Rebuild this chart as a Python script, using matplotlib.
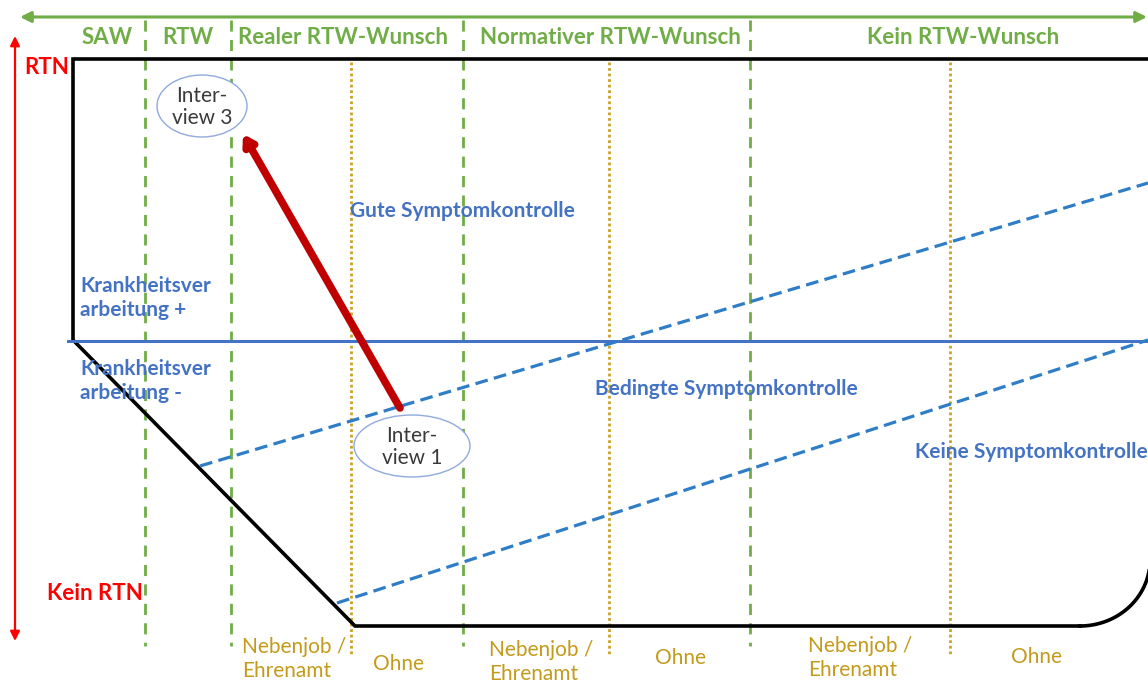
import numpy as np
import matplotlib.pyplot as plt
from matplotlib.patches import Ellipse

# === Diagram content (pixel space of a 1148 x 682 canvas) ===
W, H = 1148, 682

phase_labels = ["SAW", "RTW", "Realer RTW-Wunsch", "Normativer RTW-Wunsch", "Kein RTW-Wunsch"]
phase_label_x = [107, 188, 343, 610, 963]
phase_dividers = [145, 231, 463, 750]

work_dividers = [351, 609, 950]
side_job_labels = ["Nebenjob /\nEhrenamt"] * 3
side_job_x = [242, 489, 808]
side_job_y = [659, 662, 658]
no_job_labels = ["Ohne"] * 3
no_job_x = [398, 680, 1037]
no_job_y = [664, 658, 657]

# outline of the trajectory space
outline_x = [1148, 73, 73, 355, 1080]
outline_y = [59, 59, 340, 626, 626]

# coping split and symptom control boundaries
coping_y = 341
symptom_lines = [((200, 466), (1148, 183)), ((337, 603), (1148, 340))]

interviews = {"Inter-\nview 3": (202, 106, 90, 62), "Inter-\nview 1": (412, 446, 116, 62)}
move_start, move_end = (400, 408), (243, 134)

GREEN = "#70AD47"
BLUE = "#4472C4"
DBLUE = "#2E7DC6"
GOLD = "#C9A227"
GOLD_TXT = "#C49A1A"
RED = "#FF0000"
DRED = "#C00000"

plt.rcParams['font.family'] = ['Lato', 'DejaVu Sans']

fig = plt.figure(figsize=(W / 100, H / 100), dpi=100)
ax = fig.add_axes([0, 0, 1, 1])
ax.set_xlim(0, W)
ax.set_ylim(H, 0)
ax.axis('off')

# top green double arrow + phase headers
ax.annotate("", xy=(20, 17), xytext=(1147, 17),
            arrowprops=dict(arrowstyle='<|-|>', color=GREEN, lw=2.2,
                            mutation_scale=16, shrinkA=0, shrinkB=0))
for lab, x in zip(phase_labels, phase_label_x):
    ax.text(x, 38, lab, color=GREEN, fontsize=16, fontweight='bold',
            ha='center', va='center')
for x in phase_dividers:
    ax.plot([x, x], [20, 646], color=GREEN, lw=2, ls=(0, (4, 3)), zorder=2)

# gold dotted sub-dividers + labels
for x in work_dividers:
    ax.plot([x, x], [62, 656], color=GOLD, lw=2, ls=(0, (1, 1)), zorder=2)
for lab, x, y in zip(side_job_labels, side_job_x, side_job_y):
    ax.text(x, y, lab, color=GOLD_TXT, fontsize=15, ha='left', va='center',
            linespacing=1.25)
for lab, x, y in zip(no_job_labels, no_job_x, no_job_y):
    ax.text(x, y, lab, color=GOLD_TXT, fontsize=15, ha='center', va='center')

# outline
ax.plot(outline_x, outline_y, color='black', lw=2.6, zorder=3,
        solid_joinstyle='miter')
t = np.linspace(np.pi / 2, 0, 40)
ax.plot(1080 + 70 * np.cos(t), 560 + 66 * np.sin(t), color='black', lw=2.6, zorder=3)

# coping split line
ax.plot([68, W], [coping_y, coping_y], color=BLUE, lw=2.2, zorder=3)

# symptom control boundaries
for (x0, y0), (x1, y1) in symptom_lines:
    ax.plot([x0, x1], [y0, y1], color=DBLUE, lw=2.3, ls=(0, (4, 2)), zorder=3)

# left red axis
ax.annotate("", xy=(15, 36), xytext=(15, 641),
            arrowprops=dict(arrowstyle='<|-|>', color=RED, lw=1.6,
                            mutation_scale=14, shrinkA=0, shrinkB=0))
ax.text(47, 68, "RTN", color=RED, fontsize=16, fontweight='bold',
        ha='center', va='center')
ax.text(95, 593, "Kein RTN", color=RED, fontsize=16, fontweight='bold',
        ha='center', va='center')

# blue region labels
blue_kw = dict(color=BLUE, fontsize=15, fontweight='bold', va='center')
ax.text(462, 211, "Gute Symptomkontrolle", ha='center', **blue_kw)
ax.text(726, 389, "Bedingte Symptomkontrolle", ha='center', **blue_kw)
ax.text(915, 452, "Keine Symptomkontrolle", ha='left', **blue_kw)
ax.text(80, 298, "Krankheitsver\narbeitung +", ha='left', linespacing=1.2, **blue_kw)
ax.text(80, 381, "Krankheitsver\narbeitung -", ha='left', linespacing=1.2, **blue_kw)

# interview movement
ax.annotate("", xy=move_end, xytext=move_start,
            arrowprops=dict(arrowstyle='-|>,head_length=0.4,head_width=0.25',
                            color=DRED, lw=5.5, mutation_scale=14,
                            shrinkA=0, shrinkB=0), zorder=4)
for lab, (cx, cy, w, h) in interviews.items():
    ax.add_patch(Ellipse((cx, cy), w, h, facecolor='white', edgecolor='#8FAADC',
                         lw=1.0, zorder=5))
    ax.text(cx, cy + 1, lab, color='#3A3A3A', fontsize=15, ha='center',
            va='center', linespacing=1.15, zorder=6)

fig.savefig("out.png", dpi=100)
